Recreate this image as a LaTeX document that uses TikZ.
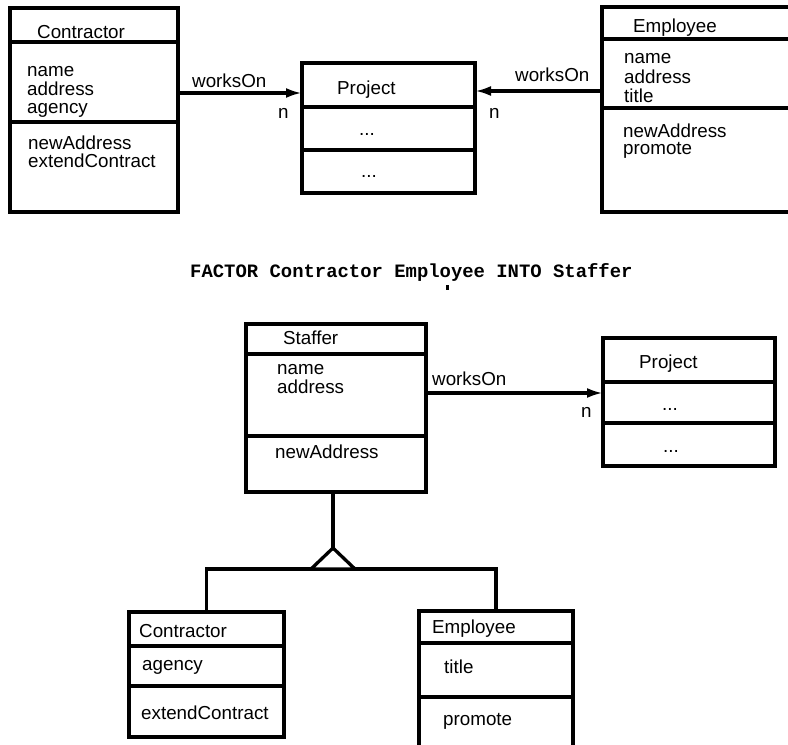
\documentclass[tikz,border=0pt]{standalone}
\usepackage{fontspec}
\setmainfont{Liberation Sans}
\newfontfamily\codefont{Liberation Mono}
\usetikzlibrary{positioning,arrows.meta}

\tikzset{
    cls/.style={draw, line width=3.3pt, outer sep=0pt, inner sep=0pt, anchor=north west},
    part/.style={draw, line width=3.3pt, outer sep=0pt, inner sep=0pt},
    txt/.style={font=\fontsize{18.8}{19}\selectfont, anchor=base west, inner sep=0pt},
    link/.style={line width=3.3pt, -{Latex[length=16pt,width=10pt]}},
    gen/.style={line width=3.3pt}
}

\begin{document}
\begin{tikzpicture}[x=1pt, y=-1pt]
\useasboundingbox (0,0) rectangle (788,745);

% top: Contractor
\node[cls, minimum width=168pt, minimum height=34pt] (c1h) at (10,8) {};
\node[part, minimum width=168pt, minimum height=80pt, below=0pt of c1h] (c1a) {};
\node[part, minimum width=168pt, minimum height=90pt, below=0pt of c1a] (c1o) {};
\node[txt] (c1t) at (37,38) {Contractor};
\node[txt] (c1n1) at (27,76) {name};
\node[txt] (c1n2) at (27,95) {address};
\node[txt] (c1n3) at (27,113) {agency};
\node[txt] (c1m1) at (28,149) {newAddress};
\node[txt] (c1m2) at (28,167) {extendContract};

% top: Project
\node[cls, minimum width=173pt, minimum height=44pt] (p1h) at (302,63) {};
\node[part, minimum width=173pt, minimum height=43pt, below=0pt of p1h] (p1a) {};
\node[part, minimum width=173pt, minimum height=43pt, below=0pt of p1a] (p1o) {};
\node[txt] (p1t) at (337,94) {Project};
\node[txt] (p1d1) at (359,135) {...};
\node[txt] (p1d2) at (361,177) {...};

% top: Employee
\node[cls, minimum width=192pt, minimum height=32pt] (e1h) at (602,7) {};
\node[part, minimum width=192pt, minimum height=69pt, below=0pt of e1h] (e1a) {};
\node[part, minimum width=192pt, minimum height=104pt, below=0pt of e1a] (e1o) {};
\node[txt] (e1t) at (633,32) {Employee};
\node[txt] (e1n1) at (624,63) {name};
\node[txt] (e1n2) at (624,83) {address};
\node[txt] (e1n3) at (624,102) {title};
\node[txt] (e1m1) at (623,137) {newAddress};
\node[txt] (e1m2) at (623,154) {promote};

% top links
\coordinate (c1out) at ([yshift=-11pt]c1a.east);
\coordinate (e1out) at ([yshift=-17.5pt]e1a.west);
\draw[link] (c1out) -- (c1out -| p1h.west);
\draw[link] (e1out) -- (e1out -| p1h.east);
\node[txt] (w1) at (192,87) {worksOn};
\node[txt] (n1) at (278,118) {n};
\node[txt] (w2) at (515,81) {worksOn};
\node[txt] (n2) at (489,118) {n};

% the operation
\node[txt, font=\codefont\bfseries\fontsize{18.9}{19}\selectfont] (op) at (190,277)
    {FACTOR Contractor Employee INTO Staffer};
\fill (445.5,284.5) rectangle (448.5,289.5);

% bottom: Staffer
\node[cls, minimum width=180pt, minimum height=30pt] (sh) at (246,324) {};
\node[part, minimum width=180pt, minimum height=82pt, below=0pt of sh] (sa) {};
\node[part, minimum width=180pt, minimum height=56pt, below=0pt of sa] (sm) {};
\node[txt] (st) at (283,344) {Staffer};
\node[txt] (sn1) at (277,374) {name};
\node[txt] (sn2) at (277,393) {address};
\node[txt] (sm1) at (275,458) {newAddress};

% bottom: Project
\node[cls, minimum width=172pt, minimum height=44pt] (p2h) at (603,338) {};
\node[part, minimum width=172pt, minimum height=41pt, below=0pt of p2h] (p2a) {};
\node[part, minimum width=172pt, minimum height=43pt, below=0pt of p2a] (p2o) {};
\node[txt] (p2t) at (639,368) {Project};
\node[txt] (p2d1) at (662,410) {...};
\node[txt] (p2d2) at (663,452) {...};

\coordinate (sout) at ([yshift=2pt]sa.east);
\draw[link] (sout) -- (sout -| p2h.west);
\node[txt] (w3) at (432,385) {worksOn};
\node[txt] (n3) at (581,417) {n};

% bottom: Contractor
\node[cls, minimum width=155pt, minimum height=34pt] (c2h) at (129,612) {};
\node[part, minimum width=155pt, minimum height=40pt, below=0pt of c2h] (c2a) {};
\node[part, minimum width=155pt, minimum height=51pt, below=0pt of c2a] (c2o) {};
\node[txt] (c2t) at (139,637) {Contractor};
\node[txt] (c2n) at (142,670) {agency};
\node[txt] (c2m) at (141,719) {extendContract};

% bottom: Employee
\node[cls, minimum width=154pt, minimum height=32pt] (e2h) at (419,611) {};
\node[part, minimum width=154pt, minimum height=54pt, below=0pt of e2h] (e2a) {};
\node[part, minimum width=154pt, minimum height=56pt, below=0pt of e2a] (e2o) {};
\node[txt] (e2t) at (432,633) {Employee};
\node[txt] (e2n) at (444,673) {title};
\node[txt] (e2m) at (443,725) {promote};

% generalisation
\coordinate (apex) at (333,548);
\draw[gen] (sm.south -| apex) -- (apex);
\draw[gen] (c2h.north) -- ++(0,-43) -| (e2h.north);
\draw[gen, fill=white] (apex) -- (311,569) -- (355,569) -- cycle;
\end{tikzpicture}
\end{document}
